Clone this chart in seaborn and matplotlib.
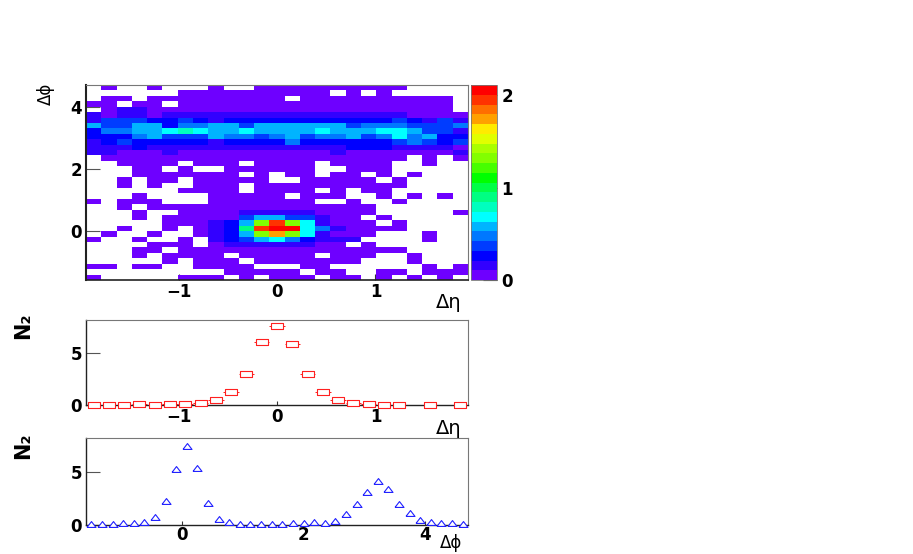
import matplotlib
matplotlib.use('Agg')
import matplotlib.pyplot as plt
from matplotlib.colors import ListedColormap
import numpy as np
import seaborn as sns

# colour level of each cell (0 = empty), top row first
cell_levels = [
    [0,1,0,0,1,0,0,0,1,0,0,1,1,1,1,1,1,1,1,1,1,0,0,0,0],
    [0,0,0,0,0,0,1,1,1,1,1,1,1,1,1,1,0,1,0,1,0,0,0,0,0],
    [0,1,1,0,1,1,1,1,1,1,1,1,1,0,1,1,1,1,1,1,1,1,1,1,0],
    [1,1,0,1,1,0,1,1,1,1,1,1,1,1,1,1,1,1,1,1,1,1,1,1,0],
    [0,1,2,2,1,1,1,1,1,1,1,1,1,1,1,1,1,1,1,1,1,1,1,1,0],
    [2,1,2,2,1,2,2,2,2,2,2,2,2,2,2,2,2,2,2,2,2,1,1,1,1],
    [2,4,4,4,3,3,4,3,2,3,3,3,3,3,3,3,3,3,3,3,4,3,2,4,2],
    [6,4,4,6,6,3,5,5,6,6,4,6,6,6,6,6,6,4,5,5,5,4,4,4,5],
    [3,5,5,6,6,7,8,7,6,6,7,6,6,6,6,7,6,6,6,7,7,6,4,4,2],
    [3,3,3,5,6,4,4,4,6,5,5,4,5,6,4,5,5,6,4,5,7,5,6,3,3],
    [2,3,4,3,3,3,3,3,2,3,3,3,3,5,3,3,3,3,3,3,4,5,4,3,4],
    [2,2,2,3,2,2,2,2,2,2,2,2,2,2,2,2,2,3,3,3,2,2,2,2,1],
    [2,2,1,1,1,2,1,1,1,1,1,1,1,1,1,1,2,1,1,1,1,1,1,1,2],
    [0,1,1,1,1,1,1,1,1,1,1,1,1,1,1,1,1,1,1,1,1,0,1,0,1],
    [0,0,1,1,1,1,0,1,1,1,0,1,1,1,1,0,1,1,1,1,0,0,1,0,0],
    [0,0,0,1,1,0,1,0,0,1,1,1,1,1,1,0,0,1,1,1,0,0,0,0,0],
    [0,0,0,1,1,1,1,1,1,1,0,1,0,1,1,0,1,1,0,1,0,1,0,0,0],
    [0,0,1,0,1,1,0,1,1,1,1,1,0,0,1,1,1,1,1,0,1,0,0,0,0],
    [0,0,1,0,1,0,0,1,1,1,0,1,1,1,1,1,1,1,1,1,1,0,0,0,0],
    [0,0,0,0,0,0,1,1,1,1,0,1,1,1,1,0,1,0,1,1,0,0,0,0,0],
    [0,0,0,1,0,0,0,0,1,1,1,1,1,0,1,1,1,0,0,1,0,1,0,1,0],
    [1,0,1,1,1,0,0,0,1,1,1,1,1,1,1,0,0,1,0,0,1,0,0,0,0],
    [0,0,1,0,1,1,1,1,1,1,1,1,1,1,1,1,1,1,1,0,0,0,0,0,0],
    [0,0,0,1,0,0,1,1,1,1,2,2,2,2,2,1,1,1,1,0,0,0,0,0,1],
    [0,0,0,1,0,1,1,1,1,1,4,6,6,4,4,2,1,1,0,1,0,0,0,0,0],
    [0,0,0,0,0,1,1,1,2,3,6,13,19,13,7,2,1,1,1,0,1,0,0,0,0],
    [0,0,1,0,0,1,0,1,2,3,9,19,20,20,7,5,2,1,1,1,1,0,0,0,0],
    [0,1,0,0,1,0,0,1,2,3,6,13,17,13,7,2,1,1,1,0,0,0,1,0,0],
    [1,0,0,1,0,0,1,0,2,3,4,6,7,5,3,2,2,2,0,0,0,0,1,0,0],
    [0,0,0,0,1,1,1,0,1,2,2,2,2,2,2,1,1,0,1,0,0,0,0,0,0],
    [0,0,0,1,1,0,1,1,1,1,1,1,1,1,1,1,1,1,1,1,1,0,0,0,0],
    [0,0,0,1,0,1,1,1,1,0,1,1,1,1,1,0,1,1,1,0,0,1,0,0,0],
    [0,0,0,0,0,1,0,1,1,1,0,1,1,1,1,1,1,1,0,0,0,1,0,0,0],
    [1,1,0,1,1,0,0,1,1,1,1,0,0,0,1,1,0,0,0,0,0,0,1,0,1],
    [0,0,0,0,0,0,0,0,0,1,1,1,1,1,0,1,1,0,0,1,1,0,1,1,1],
    [1,0,0,0,0,0,1,1,1,0,1,0,1,1,1,0,1,1,0,1,0,1,0,1,0],
]

palette = ['#6e00ff', '#3200ff', '#0000ff', '#003cff', '#0078ff', '#00b4ff', '#00ffff',
           '#00ffbe', '#00ff82', '#00ff46', '#00ff00', '#46ff00', '#82ff00', '#aaff00',
           '#e1ff00', '#ffeb00', '#ffa000', '#ff6e00', '#ff3200', '#ff0000']

eta_x = [-1.862, -1.707, -1.552, -1.397, -1.242, -1.087, -0.932, -0.776, -0.621, -0.466, -0.311, -0.155,
         0.0, 0.155, 0.311, 0.466, 0.621, 0.776, 0.932, 1.087, 1.242, 1.552, 1.862]
eta_y = [0.03, 0.02, 0.01, 0.05, 0.04, 0.06, 0.12, 0.2, 0.5, 1.2, 3.0, 6.0,
         7.5, 5.85, 3.0, 1.25, 0.45, 0.22, 0.1, 0.04, 0.02, 0.02, 0.02]

phi_x = [-1.484, -1.309, -1.134, -0.960, -0.785, -0.611, -0.436, -0.262, -0.087, 0.087, 0.262, 0.436,
         0.611, 0.785, 0.960, 1.134, 1.309, 1.484, 1.658, 1.833, 2.007, 2.182, 2.356, 2.531,
         2.705, 2.880, 3.054, 3.229, 3.403, 3.578, 3.752, 3.927, 4.102, 4.276, 4.451, 4.625]
phi_y = [0.05, 0.05, 0.05, 0.1, 0.1, 0.25, 0.7, 2.2, 5.3, 7.4, 5.4, 2.0,
         0.55, 0.25, 0.05, 0.05, 0.05, 0.05, 0.05, 0.1, 0.1, 0.2, 0.15, 0.35,
         1.0, 1.9, 3.05, 4.1, 3.35, 1.9, 1.05, 0.4, 0.2, 0.12, 0.12, 0.03]

W, H = 913, 554
ETA_MAX = 1.94
PHI_MIN, PHI_MAX = -1.571, 4.712
Z_MAX = 2.11

sns.set_style('white')
plt.rcParams['font.family'] = ['DejaVu Sans']
plt.rcParams['font.weight'] = 'bold'
plt.rcParams['text.color'] = 'black'
plt.rcParams['xtick.labelcolor'] = 'black'
plt.rcParams['ytick.labelcolor'] = 'black'


def make_axes(fig, left, top, right, bottom):
    return fig.add_axes([left / W, 1 - bottom / H, (right - left) / W, (bottom - top) / H])


def style_frame(ax):
    for side in ['top', 'right']:
        ax.spines[side].set_visible(True)
        ax.spines[side].set_color('#777777')
        ax.spines[side].set_linewidth(0.8)
    for side in ['left', 'bottom']:
        ax.spines[side].set_visible(True)
        ax.spines[side].set_color('#222222')
        ax.spines[side].set_linewidth(1.0)


fig = plt.figure(figsize=(W / 100, H / 100), dpi=100, facecolor='white')

# 2D correlation
ax_map = make_axes(fig, 86, 85, 468, 280)
ax_bar = make_axes(fig, 471, 85, 497, 280)
levels = np.array(cell_levels, dtype=float)
z = (levels - 0.5) * Z_MAX / 20
sns.heatmap(z, mask=levels == 0, cmap=ListedColormap(palette), vmin=0, vmax=Z_MAX,
            ax=ax_map, cbar_ax=ax_bar, xticklabels=False, yticklabels=False)
n_rows, n_cols = levels.shape
ax_map.set_xticks([(v + ETA_MAX) / (2 * ETA_MAX) * n_cols for v in [-1, 0, 1]])
ax_map.set_xticklabels(['\u22121', '0', '1'], fontsize=12, fontweight='bold')
ax_map.set_yticks([(PHI_MAX - v) / (PHI_MAX - PHI_MIN) * n_rows for v in [0, 2, 4]])
ax_map.set_yticklabels(['0', '2', '4'], fontsize=12, fontweight='bold', rotation=0)
ax_map.tick_params(axis='x', bottom=True, direction='in', length=4, width=0.8, color='#333333', pad=2)
ax_map.tick_params(axis='y', left=True, direction='in', length=10, width=0.8, color='#555555', pad=3)
style_frame(ax_map)
ax_map.spines['left'].set_linewidth(1.5)
ax_map.spines['bottom'].set_linewidth(1.2)

cbar = ax_map.collections[0].colorbar
cbar.set_ticks([0, 1, 2])
cbar.set_ticklabels(['0', '1', '2'], fontsize=12, fontweight='bold')
ax_bar.tick_params(axis='y', right=True, direction='in', length=10, width=0.8, color='#222222', pad=3)
cbar.outline.set_visible(True)
cbar.outline.set_linewidth(0.6)
cbar.outline.set_edgecolor('#777777')

# projection on eta
box = [(-1, -0.5), (1, -0.5), (1, 0.5), (-1, 0.5), (-1, -0.5)]
ax_eta = make_axes(fig, 86, 320, 468, 405)
ax_eta.errorbar(eta_x, eta_y, xerr=0.0776, fmt='none', ecolor='#ff2020', elinewidth=0.7, clip_on=False)
sns.lineplot(x=eta_x, y=eta_y, ax=ax_eta, linestyle='', marker=box, markersize=8,
             markerfacecolor='white', markeredgecolor='#ff2020', markeredgewidth=0.8, zorder=3,
             clip_on=False)
ax_eta.set_xlim(-ETA_MAX, ETA_MAX)
ax_eta.set_ylim(0, 8.1)
ax_eta.set_xticks([-1, 0, 1])
ax_eta.set_xticklabels(['\u22121', '0', '1'], fontsize=12, fontweight='bold')
ax_eta.set_yticks([0, 5])
ax_eta.set_yticklabels(['0', '5'], fontsize=12, fontweight='bold')
ax_eta.tick_params(axis='x', bottom=True, direction='in', length=3, width=0.8, color='#333333', pad=2)
ax_eta.tick_params(axis='y', left=True, direction='in', length=10, width=0.8, color='#555555', pad=3)
style_frame(ax_eta)

# projection on phi
tri = [(-1, -0.65), (1, -0.65), (0, 0.65), (-1, -0.65)]
ax_phi = make_axes(fig, 86, 438, 468, 524.5)
sns.lineplot(x=phi_x, y=phi_y, ax=ax_phi, linestyle='', marker=tri, markersize=6.5,
             markerfacecolor='white', markeredgecolor='#2020ff', markeredgewidth=0.8, zorder=3,
             clip_on=False)
ax_phi.set_xlim(PHI_MIN, PHI_MAX)
ax_phi.set_ylim(0, 8.2)
ax_phi.set_xticks([0, 2, 4])
ax_phi.set_xticklabels(['0', '2', '4'], fontsize=12, fontweight='bold')
ax_phi.set_yticks([0, 5])
ax_phi.set_yticklabels(['0', '5'], fontsize=12, fontweight='bold')
ax_phi.tick_params(axis='x', bottom=True, direction='in', length=3, width=0.8, color='#333333', pad=1)
ax_phi.tick_params(axis='y', left=True, direction='in', length=10, width=0.8, color='#555555', pad=3)
style_frame(ax_phi)

# axis titles
fig.text(449 / W, 1 - 303 / H, '\u0394\u03b7', fontsize=14, fontweight='normal', ha='center', va='center')
fig.text(449 / W, 1 - 428 / H, '\u0394\u03b7', fontsize=14, fontweight='normal', ha='center', va='center')
fig.text(451 / W, 1 - 543 / H, '\u0394\u03d5', fontsize=12, fontweight='normal', ha='center', va='center')
fig.text(46 / W, 1 - 94 / H, '\u0394\u03d5', fontsize=12, fontweight='normal', rotation=90, ha='center', va='center')
fig.text(23 / W, 1 - 326 / H, 'N\u2082', fontsize=15, fontweight='bold', rotation=90, ha='center', va='center')
fig.text(23 / W, 1 - 446 / H, 'N\u2082', fontsize=15, fontweight='bold', rotation=90, ha='center', va='center')

fig.savefig('out.png', dpi=100, facecolor='white')
